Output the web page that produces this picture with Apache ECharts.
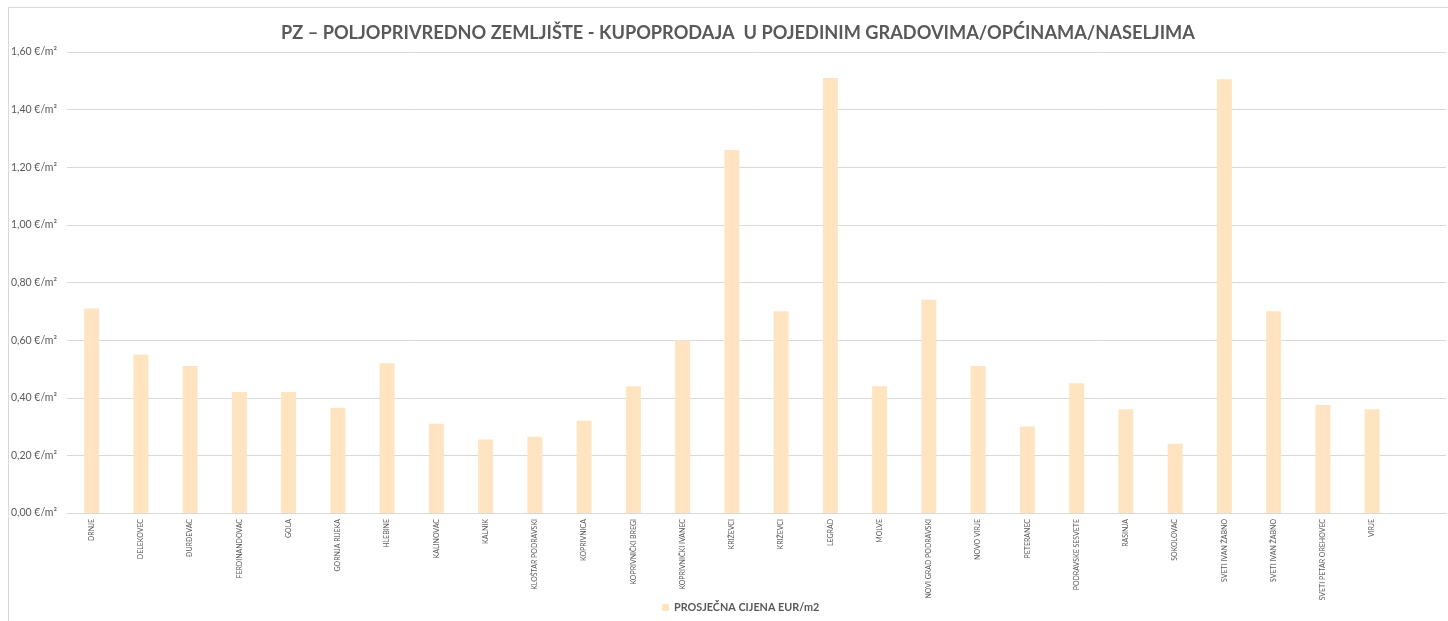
<!DOCTYPE html>
<html>
<head>
<meta charset="utf-8">
<script src="https://cdn.jsdelivr.net/npm/echarts@6/dist/echarts.min.js"></script>
<style>
  html, body { margin: 0; padding: 0; background: #fff; }
  #chart { width: 1448px; height: 621px; }
</style>
</head>
<body>
<div id="chart"></div>
<script>
// naselja (zadnja kategorija je prazna, kao u izvornom grafikonu)
const categories = [
  'DRNJE', 'DELEKOVEC', 'ĐURĐEVAC', 'FERDINANDOVAC', 'GOLA', 'GORNJA RIJEKA', 'HLEBINE',
  'KALINOVAC', 'KALNIK', 'KLOŠTAR PODRAVSKI', 'KOPRIVNICA', 'KOPRIVNIČKI BREGI',
  'KOPRIVNIČKI IVANEC', 'KRIŽEVCI', 'KRIŽEVCI', 'LEGRAD', 'MOLVE', 'NOVI GRAD PODRAVSKI',
  'NOVO VIRJE', 'PETERANEC', 'PODRAVSKE SESVETE', 'RASINJA', 'SOKOLOVAC',
  'SVETI IVAN ŽABNO', 'SVETI IVAN ŽABNO', 'SVETI PETAR OREHOVEC', 'VIRJE', ''
];
// prosječna cijena EUR/m2
const prices = [
  0.71, 0.55, 0.51, 0.42, 0.42, 0.365, 0.52,
  0.31, 0.255, 0.265, 0.32, 0.44,
  0.60, 1.26, 0.70, 1.51, 0.44, 0.74,
  0.51, 0.30, 0.45, 0.36, 0.24,
  1.505, 0.70, 0.375, 0.36, null
];
const seriesName = 'PROSJEČNA CIJENA EUR/m2';
const titleText = 'PZ – POLJOPRIVREDNO ZEMLJIŠTE - KUPOPRODAJA  U POJEDINIM GRADOVIMA/OPĆINAMA/NASELJIMA';

const chart = echarts.init(document.getElementById('chart'));
chart.setOption({
  animation: false,
  textStyle: { fontFamily: 'Lato' },
  title: {
    text: titleText,
    left: 276,
    top: 19,
    textStyle: { fontSize: 18.2, fontWeight: 'bold', color: '#595959', fontFamily: 'Lato' }
  },
  // okvir grafikona
  graphic: [{
    type: 'rect',
    shape: { x: 8.5, y: 7.5, width: 1460, height: 640 },
    style: { fill: 'none', stroke: '#d9d9d9', lineWidth: 1 },
    silent: true
  }],
  grid: { left: 67, right: 2, top: 52, bottom: 108 },
  legend: {
    bottom: 3,
    left: 657,
    itemWidth: 7,
    itemHeight: 7,
    itemGap: 4,
    icon: 'rect',
    textStyle: { fontSize: 10.8, fontWeight: 'bold', color: '#595959' },
    data: [seriesName]
  },
  xAxis: {
    type: 'category',
    data: categories,
    axisTick: { show: false },
    axisLine: { lineStyle: { color: '#d9d9d9' } },
    axisLabel: { interval: 0, rotate: 90, fontSize: 7, color: '#595959', margin: 6 }
  },
  yAxis: {
    type: 'value',
    min: 0,
    max: 1.6,
    interval: 0.2,
    axisLine: { show: false },
    axisTick: { show: false },
    splitLine: { lineStyle: { color: '#d9d9d9' } },
    axisLabel: {
      fontSize: 10.5,
      color: '#595959',
      margin: 10,
      formatter: v => v.toFixed(2).replace('.', ',') + ' €/m²'
    }
  },
  series: [{
    name: seriesName,
    type: 'bar',
    data: prices,
    barWidth: 15,
    itemStyle: { color: '#FFE4C2' }
  }]
});
</script>
</body>
</html>
